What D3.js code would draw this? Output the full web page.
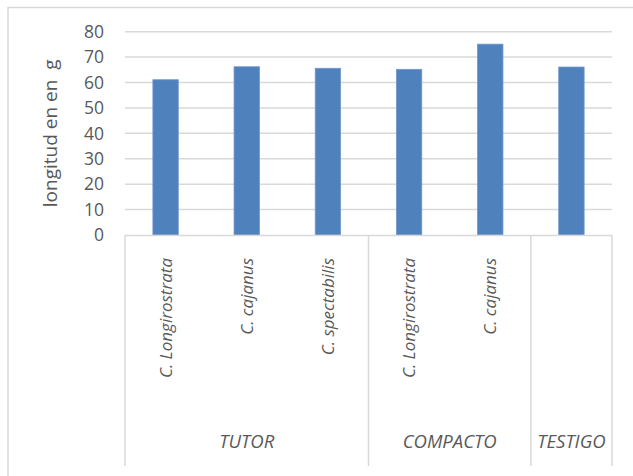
<!DOCTYPE html>
<html>
<head>
<meta charset="utf-8">
<script src="https://cdn.jsdelivr.net/npm/d3@7/dist/d3.min.js"></script>
<style>
  html, body { margin: 0; padding: 0; background: #fff; }
  svg { display: block; }
  text { font-family: "Open Sans", sans-serif; fill: #595959; }
</style>
</head>
<body>
<svg id="chart" width="633" height="476"></svg>
<script>
const groups = ["TUTOR", "TUTOR", "TUTOR", "COMPACTO", "COMPACTO", "TESTIGO"];
const subLabels = ["C. Longirostrata", "C. cajanus", "C. spectabilis", "C. Longirostrata", "C. cajanus", ""];
const values = [61.1, 66.2, 65.6, 65.2, 75.1, 66.1];
const yTicks = [0, 10, 20, 30, 40, 50, 60, 70, 80];
const yTitle = "longitud en en  g";

const svg = d3.select("#chart");
const plotLeft = 125, plotRight = 612, plotTop = 31.7, plotBottom = 235;

// outer chart border (cropped on right/bottom)
svg.append("rect").attr("x", 8).attr("y", 7.5).attr("width", 700).attr("height", 600)
  .attr("fill", "#fff").attr("stroke", "#d9d9d9").attr("stroke-width", 1.5);

const idx = d3.range(values.length);
const x = d3.scaleBand().domain(idx).range([plotLeft, plotRight]).paddingInner(0.687).paddingOuter(0.3435);
const xs = d3.scaleBand().domain(idx).range([plotLeft, plotRight]).padding(0);
const y = d3.scaleLinear().domain([0, 80]).range([plotBottom, plotTop]);

// gridlines
svg.append("g").selectAll("line").data(yTicks.filter(d => d > 0)).join("line")
  .attr("x1", plotLeft).attr("x2", plotRight)
  .attr("y1", d => y(d)).attr("y2", d => y(d))
  .attr("stroke", "#d9d9d9").attr("stroke-width", 1.5);

// y tick labels
svg.append("g").selectAll("text").data(yTicks).join("text")
  .attr("x", 104).attr("y", d => y(d)).attr("dy", "0.36em")
  .attr("text-anchor", "end").attr("font-size", "17.5px").text(d => d);

// bars
svg.append("g").selectAll("rect").data(values).join("rect")
  .attr("x", (d, i) => x(i)).attr("width", x.bandwidth())
  .attr("y", d => y(d)).attr("height", d => y(0) - y(d))
  .attr("fill", "#4f81bd").attr("stroke", "#7397cb").attr("stroke-width", 0.8);

// axis baseline
svg.append("line").attr("x1", plotLeft).attr("x2", plotRight).attr("y1", y(0) + 0.5).attr("y2", y(0) + 0.5)
  .attr("stroke", "#d9d9d9").attr("stroke-width", 1.5);

// group separators
const groupNames = [...new Set(groups)];
const groupSpans = groupNames.map(g => {
  const ii = idx.filter(i => groups[i] === g);
  return { name: g, x0: xs(ii[0]), x1: xs(ii[ii.length - 1]) + xs.bandwidth() };
});
const seps = [plotLeft, ...groupSpans.map(g => g.x1)];
svg.append("g").selectAll("line").data(seps).join("line")
  .attr("x1", d => d).attr("x2", d => d).attr("y1", y(0)).attr("y2", 466)
  .attr("stroke", "#d9d9d9").attr("stroke-width", 1.5);

// sub category labels (rotated)
svg.append("g").selectAll("text").data(idx.filter(i => subLabels[i])).join("text")
  .attr("transform", i => `translate(${xs(i) + xs.bandwidth() / 2},258) rotate(-90)`)
  .attr("dy", "0.36em").attr("text-anchor", "end")
  .attr("font-size", "17px").attr("font-style", "italic").text(i => subLabels[i]);

// group labels
svg.append("g").selectAll("text").data(groupSpans).join("text")
  .attr("x", d => (d.x0 + d.x1) / 2).attr("y", 441).attr("dy", "0.36em")
  .attr("text-anchor", "middle").attr("font-size", "18.5px").attr("font-style", "italic")
  .text(d => d.name);

// y title
svg.append("text")
  .attr("transform", `translate(50,${(plotTop + plotBottom) / 2}) rotate(-90)`)
  .attr("dy", "0.36em").attr("text-anchor", "middle").attr("font-size", "19px")
  .style("white-space", "pre").text(yTitle);
</script>
</body>
</html>
